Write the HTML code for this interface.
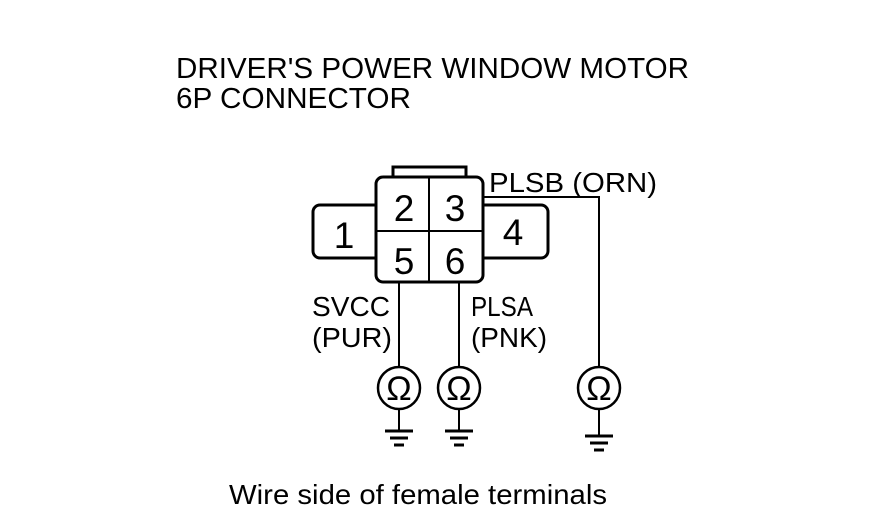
<!DOCTYPE html>
<html><head><meta charset="utf-8"><style>
html,body{margin:0;padding:0;background:#fff;}
svg{display:block;}
text{font-family:"Liberation Sans",Arial,sans-serif;fill:#000;}
</style></head><body>
<svg width="880" height="524" viewBox="0 0 880 524" xmlns="http://www.w3.org/2000/svg">
<text x="176" y="78" font-size="29" textLength="513" lengthAdjust="spacingAndGlyphs">DRIVER'S POWER WINDOW MOTOR</text>
<text x="176" y="108" font-size="29" textLength="235" lengthAdjust="spacingAndGlyphs">6P CONNECTOR</text>
<g fill="#fff" stroke="#000" stroke-width="3">
<rect x="393" y="167" width="73" height="14"/>
<rect x="313" y="205" width="70" height="53" rx="7"/>
<rect x="476" y="205" width="72" height="53" rx="7"/>
<rect x="376" y="177" width="107" height="105" rx="7"/>
</g>
<g stroke="#000" stroke-width="2" fill="none">
<line x1="429" y1="177" x2="429" y2="282"/>
<line x1="376" y1="231" x2="483" y2="231"/>
<polyline points="483,197 599,197 599,368"/>
<line x1="399" y1="282" x2="399" y2="367"/>
<line x1="459" y1="282" x2="459" y2="367"/>
<circle cx="399" cy="388" r="21" stroke-width="2.5"/>
<circle cx="459" cy="388" r="21" stroke-width="2.5"/>
<circle cx="599" cy="388" r="21" stroke-width="2.5"/>
<line x1="399" y1="409" x2="399" y2="430"/>
<line x1="459" y1="409" x2="459" y2="430"/>
<line x1="599" y1="409" x2="599" y2="435"/>
</g>
<g stroke="#000" stroke-width="3">
<line x1="385" y1="431" x2="413" y2="431"/><line x1="390" y1="438" x2="408" y2="438"/><line x1="394" y1="445" x2="404" y2="445"/>
<line x1="445" y1="431" x2="473" y2="431"/><line x1="450" y1="438" x2="468" y2="438"/><line x1="454" y1="445" x2="464" y2="445"/>
<line x1="585" y1="436" x2="613" y2="436"/><line x1="590" y1="443" x2="608" y2="443"/><line x1="594" y1="450" x2="604" y2="450"/>
</g>
<g font-size="37" text-anchor="middle">
<text x="404" y="221">2</text><text x="455" y="221">3</text>
<text x="404" y="274">5</text><text x="455" y="274">6</text>
<text x="344" y="248">1</text><text x="513" y="245">4</text>
</g>
<g font-size="34" text-anchor="middle">
<text x="399" y="400">Ω</text><text x="459" y="400">Ω</text><text x="599" y="400">Ω</text>
</g>
<g font-size="28">
<text x="489" y="192" textLength="168" lengthAdjust="spacingAndGlyphs">PLSB (ORN)</text>
<text x="312" y="316" textLength="78" lengthAdjust="spacingAndGlyphs">SVCC</text>
<text x="312" y="347" textLength="80" lengthAdjust="spacingAndGlyphs">(PUR)</text>
<text x="471" y="316" textLength="62" lengthAdjust="spacingAndGlyphs">PLSA</text>
<text x="471" y="347" textLength="76" lengthAdjust="spacingAndGlyphs">(PNK)</text>
</g>
<text x="229" y="504" font-size="28" textLength="378" lengthAdjust="spacingAndGlyphs">Wire side of female terminals</text>
</svg>
</body></html>
